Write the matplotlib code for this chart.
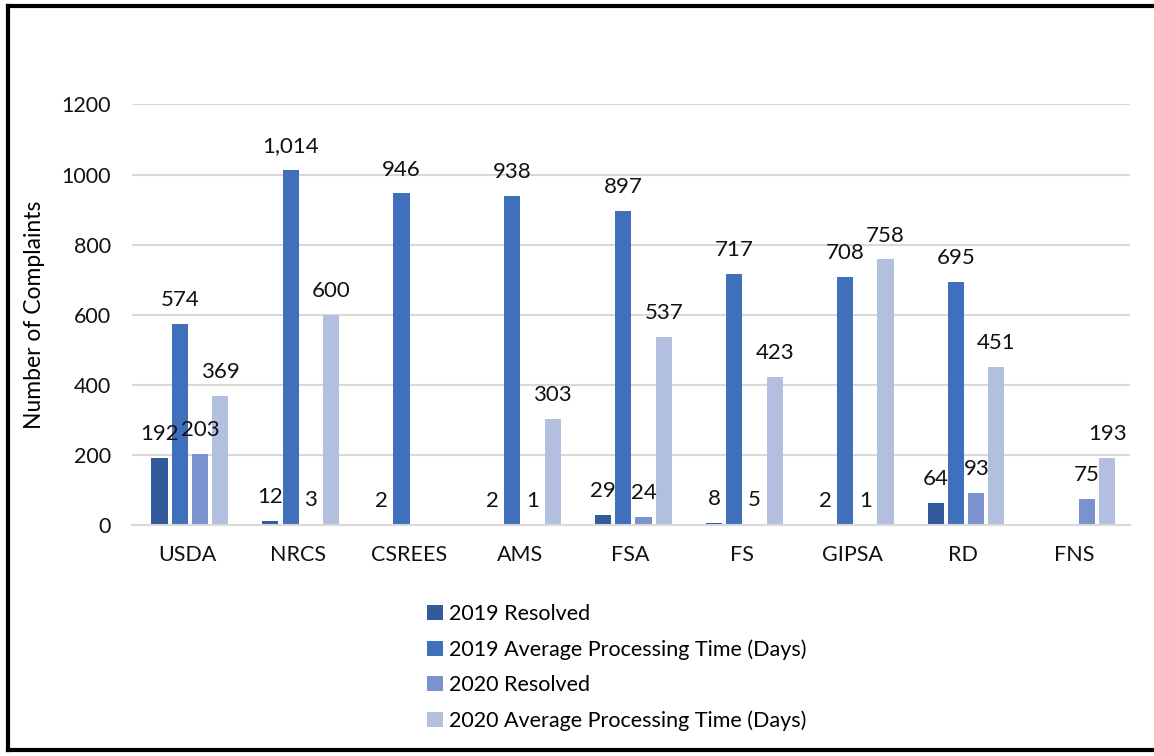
import numpy as np
import matplotlib.pyplot as plt
from matplotlib.lines import Line2D

plt.rcParams["font.family"] = ["Lato", "DejaVu Sans"]

agencies = ["USDA", "NRCS", "CSREES", "AMS", "FSA", "FS", "GIPSA", "RD", "FNS"]
resolved_2019 = [192, 12, 2, 2, 29, 8, 2, 64, np.nan]
avg_days_2019 = [574, 1014, 946, 938, 897, 717, 708, 695, np.nan]
resolved_2020 = [203, 3, np.nan, 1, 24, 5, 1, 93, 75]
avg_days_2020 = [369, 600, np.nan, 303, 537, 423, 758, 451, 193]

series_names = [
    "2019 Resolved",
    "2019 Average Processing Time (Days)",
    "2020 Resolved",
    "2020 Average Processing Time (Days)",
]
colors = ["#335a9b", "#4070bb", "#7a93cf", "#b3bfdf"]

fig = plt.figure(figsize=(11.54, 7.56), dpi=100)
ax = fig.add_axes([0.114, 0.305, 0.865, 0.557])

x = np.arange(len(agencies))
width = 0.145
pitch = 0.182
all_series = [resolved_2019, avg_days_2019, resolved_2020, avg_days_2020]

for i, (vals, name, col) in enumerate(zip(all_series, series_names, colors)):
    pos = x + (i - 1.5) * pitch + 0.025
    vals = np.array(vals, dtype=float)
    bars = ax.bar(pos, np.nan_to_num(vals), width, color=col, label=name, zorder=2)
    for b, v in zip(bars, vals):
        if np.isnan(v):
            continue
        ax.annotate(f"{int(v):,}", (b.get_x() + b.get_width() / 2, v),
                    xytext=(0, 10), textcoords="offset points",
                    ha="center", va="bottom", fontsize=16, color="#111111")

ax.set_xlim(-0.5, len(agencies) - 0.5)
ax.set_ylim(0, 1200)
ax.set_yticks(range(0, 1201, 200))
ax.set_xticks(x)
ax.set_xticklabels(agencies)
ax.yaxis.grid(True, color="#d9d9d9", linewidth=1.5, zorder=0)
ax.set_axisbelow(True)
for s in ["top", "right", "left"]:
    ax.spines[s].set_visible(False)
ax.spines["bottom"].set_color("#d9d9d9")
ax.spines["bottom"].set_linewidth(1.5)
ax.tick_params(axis="both", length=0, labelsize=15.5, colors="#111111")
ax.tick_params(axis="x", pad=14)
ax.tick_params(axis="y", pad=15)
ax.set_ylabel("Number of Complaints", fontsize=16.5, labelpad=12)

ax.legend(loc="upper left", bbox_to_anchor=(0.277, -0.14), frameon=False,
          fontsize=15.5, handlelength=0.7, handleheight=0.7, handletextpad=0.3,
          labelspacing=0.72)

# frame: left, top and bottom edges only
for xs, ys in [([0.0065, 0.0065], [0.008, 0.992]),
               ([0.0065, 1.0], [0.992, 0.992]),
               ([0.0065, 1.0], [0.008, 0.008])]:
    fig.add_artist(Line2D(xs, ys, transform=fig.transFigure, color="black", linewidth=3))

fig.savefig("out.png", dpi=100)
